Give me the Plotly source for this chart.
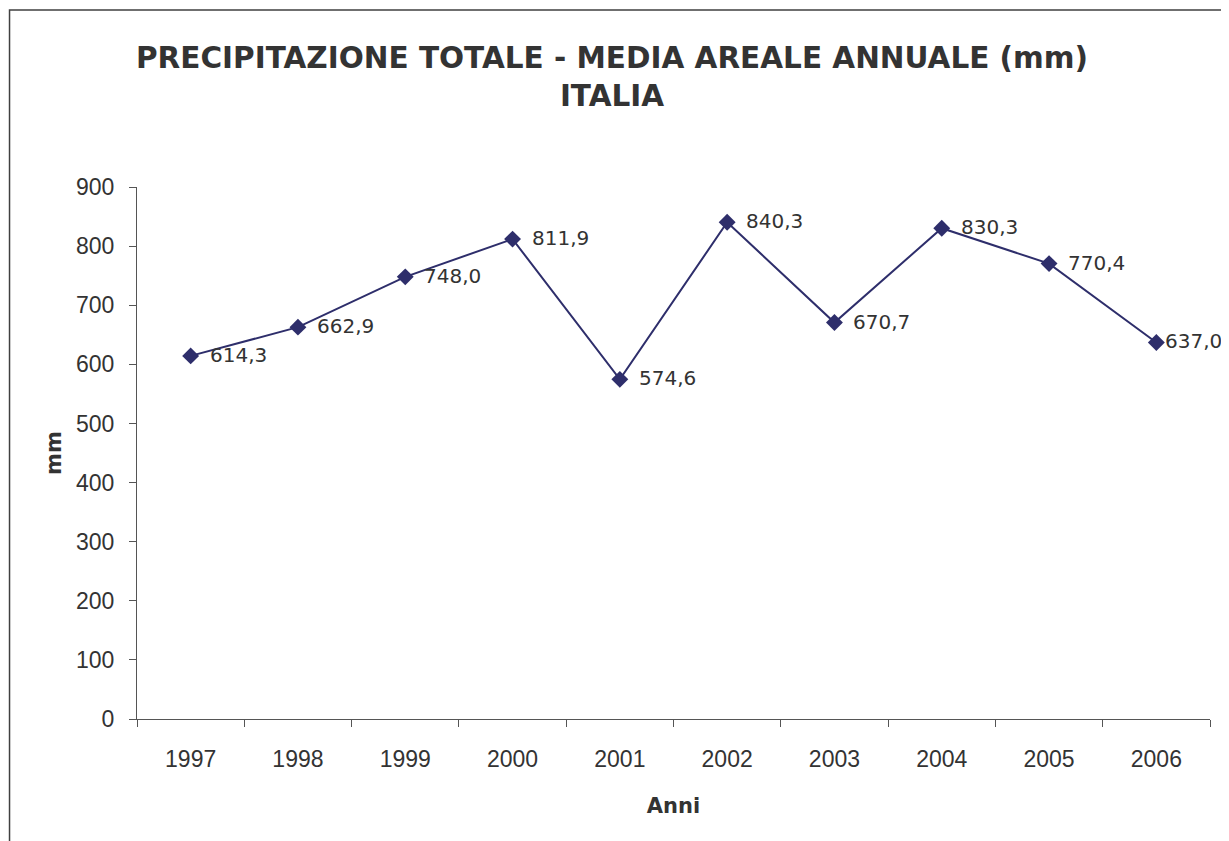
import plotly.graph_objects as go

years = ["1997", "1998", "1999", "2000", "2001", "2002", "2003", "2004", "2005", "2006"]
precip_mm = [614.3, 662.9, 748.0, 811.9, 574.6, 840.3, 670.7, 830.3, 770.4, 637.0]
label_shift = [17, 17, 17, 17, 17, 17, 17, 17, 17, 7]
y_ticks = [0, 100, 200, 300, 400, 500, 600, 700, 800, 900]

title_text = "PRECIPITAZIONE TOTALE - MEDIA AREALE ANNUALE (mm)<br>ITALIA"
x_title = "Anni"
y_title = "mm"

line_color = "#2E2E6B"
text_color = "#333333"
axis_color = "#555555"

fig = go.Figure()
fig.add_trace(go.Scatter(
    x=years, y=precip_mm, mode="lines+markers",
    line=dict(color=line_color, width=2),
    marker=dict(symbol="diamond", size=13, color=line_color),
    cliponaxis=False, showlegend=False,
    hovertemplate="%{x}: %{y:.1f}<extra></extra>",
))

annotations = []
for i, (v, sh) in enumerate(zip(precip_mm, label_shift)):
    annotations.append(dict(
        x=i, y=v, xref="x", yref="y",
        text=f"{v:.1f}".replace(".", ","),
        showarrow=False, xanchor="left", yanchor="middle",
        xshift=sh, yshift=1,
        font=dict(family="DejaVu Sans", size=20, color=text_color),
    ))

# outer chart frame
fig.add_shape(type="rect", xref="paper", yref="paper",
              x0=-0.1188, x1=1.0126, y0=-0.30, y1=1.3327,
              line=dict(color="#404040", width=1.5), layer="below")

fig.update_layout(
    width=1221, height=833,
    margin=dict(l=129, r=19, t=179, b=122),
    paper_bgcolor="white", plot_bgcolor="white",
    separators=",.",
    title=dict(
        text=title_text, x=0.4947, xref="container", xanchor="center",
        y=1 - 60 / 833, yref="container", yanchor="middle",
        font=dict(family="DejaVu Sans", size=29.5, color=text_color, weight="bold"),
    ),
    annotations=annotations,
    xaxis=dict(
        type="category", range=[-0.5, 9.5], showgrid=False, zeroline=False,
        showline=True, linecolor=axis_color, linewidth=1,
        ticks="outside", ticklen=7, tickcolor=axis_color, tickson="boundaries",
        tickangle=0,
        tickfont=dict(family="Liberation Sans", size=23, color=text_color),
        ticklabelstandoff=19,
        title=dict(text=x_title, standoff=27,
                   font=dict(family="DejaVu Sans", size=21, color=text_color, weight="bold")),
    ),
    yaxis=dict(
        range=[0, 900], tickvals=y_ticks, showgrid=False, zeroline=False,
        showline=True, linecolor=axis_color, linewidth=1,
        ticks="outside", ticklen=7, tickcolor=axis_color,
        tickfont=dict(family="Liberation Sans", size=23, color=text_color),
        ticklabelstandoff=10,
        title=dict(text=y_title, standoff=8,
                   font=dict(family="DejaVu Sans", size=21, color=text_color, weight="bold")),
    ),
)

fig.write_html("out.html")
